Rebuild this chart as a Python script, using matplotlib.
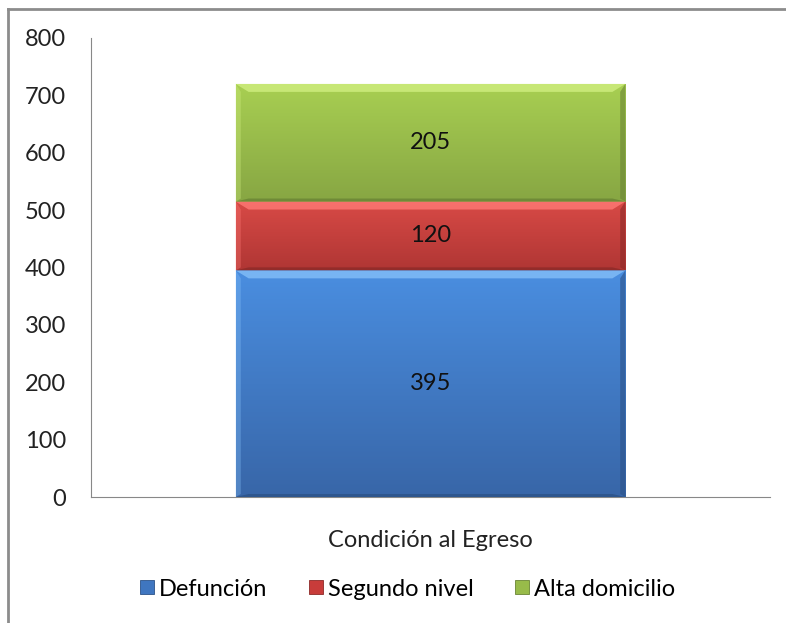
import matplotlib
matplotlib.use("Agg")
import matplotlib.pyplot as plt
import numpy as np
from matplotlib.colors import LinearSegmentedColormap, to_rgb
from matplotlib.patches import Polygon
from matplotlib.lines import Line2D

categories = ["Condición al Egreso"]
series_names = ["Defunción", "Segundo nivel", "Alta domicilio"]
values = [395, 120, 205]
yticks = [0, 100, 200, 300, 400, 500, 600, 700, 800]

top_cols = ["#4a8ee0", "#d84a46", "#a8cf52"]
bot_cols = ["#3866a8", "#b03634", "#87a643"]
hi_cols = ["#84bff8", "#ff7a76", "#d0ee80"]
lo_cols = ["#2c5288", "#8c2a28", "#6a8434"]
leg_cols = ["#3f76c0", "#c83c3a", "#98bb4a"]

plt.rcParams['font.family'] = ['Lato', 'DejaVu Sans']
FS = 17

fig = plt.figure(figsize=(7.86, 6.23), dpi=100)
W, H = 786, 623
ax = fig.add_axes([91 / W, 1 - 497 / H, (770 - 91) / W, (497 - 38) / H])
ax.set_xlim(-0.5, 0.5)
ax.set_ylim(0, 800)

bw = 0.574
bottom = 0
bx = 13 / 679.0
by = 8 * 800 / 459.0
lo = 3 * 800 / 459.0
for i, v in enumerate(values):
    x0, x1 = -bw / 2, bw / 2
    y0, y1 = bottom, bottom + v
    ax.bar(0, v, bw, bottom=bottom, color=leg_cols[i], zorder=2, linewidth=0)
    cmap = LinearSegmentedColormap.from_list("g", [to_rgb(bot_cols[i]), to_rgb(top_cols[i])])
    grad = np.linspace(0, 1, 256).reshape(-1, 1)
    ax.imshow(grad, extent=(x0, x1, y0, y1), origin="lower", cmap=cmap, aspect="auto", zorder=3)
    ax.add_patch(Polygon([(x0, y1), (x1, y1), (x1 - bx, y1 - by), (x0 + bx, y1 - by)],
                         closed=True, color=hi_cols[i], alpha=0.8, lw=0, zorder=4))
    ax.add_patch(Polygon([(x0, y0), (x1, y0), (x1 - bx, y0 + lo), (x0 + bx, y0 + lo)],
                         closed=True, color=lo_cols[i], alpha=0.8, lw=0, zorder=4))
    ax.add_patch(Polygon([(x1, y0), (x1, y1), (x1 - bx * 0.4, y1 - by), (x1 - bx * 0.4, y0 + lo)],
                         closed=True, color=lo_cols[i], alpha=0.6, lw=0, zorder=4))
    ax.add_patch(Polygon([(x0, y0), (x0, y1), (x0 + bx * 0.4, y1 - by), (x0 + bx * 0.4, y0 + lo)],
                         closed=True, color=hi_cols[i], alpha=0.35, lw=0, zorder=4))
    ax.text(0, bottom + v / 2, str(v), ha="center", va="center", fontsize=FS, color="#111111", zorder=5)
    bottom += v

ax.set_yticks(yticks)
ax.set_yticklabels([str(t) for t in yticks], fontsize=FS, color="#222222")
ax.tick_params(axis="y", length=0, pad=18)
ax.set_xticks([0])
ax.set_xticklabels(categories, fontsize=FS, color="#222222")
ax.tick_params(axis="x", length=0, pad=24)
for s in ["top", "right"]:
    ax.spines[s].set_visible(False)
ax.spines["left"].set_color("#888888")
ax.spines["bottom"].set_color("#888888")

handles = [Line2D([0], [0], marker="s", linestyle="none", markersize=10,
                  markerfacecolor=leg_cols[i], markeredgecolor=lo_cols[i], markeredgewidth=0.6)
           for i in range(3)]
fig.legend(handles, series_names, loc="center", bbox_to_anchor=(407 / W, 1 - 589 / H),
           ncol=3, frameon=False, fontsize=FS, handletextpad=0.15, columnspacing=1.7,
           handlelength=0.7)

fig.add_artist(Line2D([8 / W, 1], [1 - 9 / H, 1 - 9 / H], color="#8c8c8c", lw=2, transform=fig.transFigure))
fig.add_artist(Line2D([8 / W, 8 / W], [0, 1 - 9 / H], color="#8c8c8c", lw=2, transform=fig.transFigure))

fig.savefig("out.png", dpi=100)
